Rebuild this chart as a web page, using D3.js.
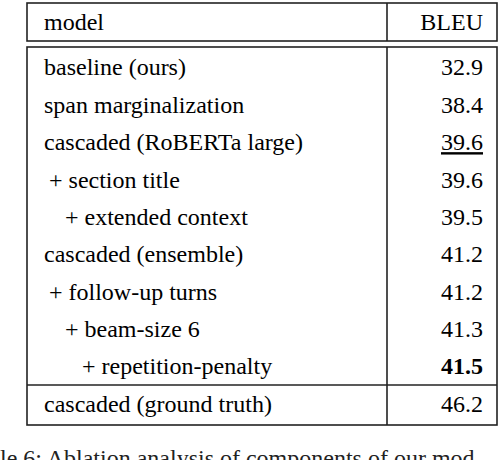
<!DOCTYPE html>
<html><head><meta charset="utf-8">
<script src="https://cdn.jsdelivr.net/npm/d3@7"></script>
<style>body{margin:0;background:#fff} text{font-family:'Liberation Serif','DejaVu Serif',serif}</style>
</head><body>
<svg id="tbl" width="500" height="460"></svg>
<script>
const models = ["baseline (ours)", "span marginalization", "cascaded (RoBERTa large)", "+ section title",
  "+ extended context", "cascaded (ensemble)", "+ follow-up turns", "+ beam-size 6",
  "+ repetition-penalty", "cascaded (ground truth)"];
const bleu = [32.9, 38.4, 39.6, 39.6, 39.5, 41.2, 41.2, 41.3, 41.5, 46.2];
const levels = [0, 0, 0, 1, 2, 0, 1, 2, 3, 0];
const styles = ["", "", "underline", "", "", "", "", "", "bold", ""];

const svg = d3.select("#tbl");
const left = 27, right = 497, divider = 387;
const y = d3.scaleLinear().domain([0, 8]).range([67, 366]);
const indent = [0, 5, 21, 38];

function line(x1, y1, x2, y2) {
  svg.append("line").attr("x1", x1).attr("y1", y1).attr("x2", x2).attr("y2", y2)
    .attr("stroke", "#222").attr("stroke-width", 1.6);
}

// header box
svg.append("rect").attr("x", left).attr("y", 3).attr("width", right - left).attr("height", 38)
  .attr("fill", "none").attr("stroke", "#222").attr("stroke-width", 1.6);
line(divider, 3, divider, 41);
svg.append("text").attr("x", 44).attr("y", 22).attr("dy", "0.35em")
  .style("font-size", "24px").text("model");
svg.append("text").attr("x", 483).attr("y", 22).attr("dy", "0.35em").attr("text-anchor", "end")
  .style("font-size", "24px").text("BLEU");

// body box
svg.append("rect").attr("x", left).attr("y", 47).attr("width", right - left).attr("height", 378)
  .attr("fill", "none").attr("stroke", "#222").attr("stroke-width", 1.6);
line(divider, 47, divider, 425);
line(left, 385, right, 385);

const rows = svg.append("g").selectAll("g").data(models).enter().append("g")
  .attr("transform", (d, i) => `translate(0,${i < 9 ? y(i) : 404})`);

rows.append("text").attr("x", (d, i) => 44 + indent[levels[i]]).attr("dy", "0.35em")
  .style("font-size", "24px").text(d => d);

rows.append("text").attr("x", 483).attr("dy", "0.35em").attr("text-anchor", "end")
  .style("font-size", "24px")
  .style("font-weight", (d, i) => styles[i] === "bold" ? "bold" : "normal")
  .style("text-decoration", (d, i) => styles[i] === "underline" ? "underline" : "none")
  .text((d, i) => bleu[i].toFixed(1));

// partially visible caption (cut at the bottom edge, as in the source)
svg.append("text").attr("x", 0).attr("y", 466)
  .style("font-size", "24px").style("fill", "#222")
  .text("le 6: Ablation analysis of components of our mod");
</script>
</body></html>
